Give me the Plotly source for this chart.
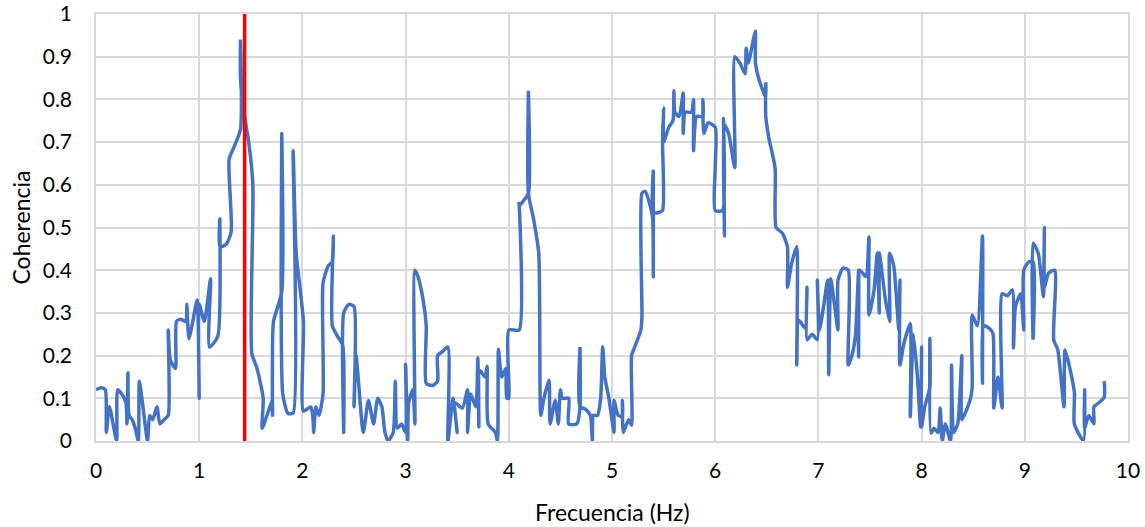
import plotly.graph_objects as go

# Coherence trace (x = frequency in Hz, y = coherence) in path order
freq = [0.00,0.05,0.09,0.10,0.13,0.20,0.21,0.25,0.29,0.30,0.31,0.32,0.35,0.38,0.41,0.42,0.45,0.50,0.52,0.55,0.59,0.62,0.66,0.70,0.70,0.72,0.77,0.78,0.82,0.87,0.88,0.90,0.93,0.98,
        1.00,1.00,1.05,1.11,1.10,1.18,1.20,1.20,1.26,1.31,1.29,1.34,1.40,1.40,1.40,1.43,1.48,1.52,1.51,1.56,1.62,1.61,1.71,1.71,1.71,1.72,1.80,1.80,1.81,1.86,1.91,1.91,1.94,
        2.01,2.01,2.08,2.10,2.11,2.13,2.16,2.20,2.20,2.25,2.29,2.30,2.29,2.34,2.39,2.40,2.40,2.45,2.50,2.50,2.52,2.59,2.64,2.69,2.73,2.77,2.80,2.83,2.88,2.90,2.92,2.96,
        3.00,3.00,3.02,3.03,3.07,3.09,3.09,3.12,3.17,3.20,3.20,3.26,3.31,3.31,3.36,3.41,3.41,3.46,3.50,3.48,3.55,3.60,3.60,3.63,3.68,3.70,3.71,3.72,3.77,3.79,3.80,3.87,3.89,3.90,3.93,3.97,3.98,
        4.00,4.00,4.10,4.10,4.10,4.15,4.19,4.19,4.19,4.24,4.29,4.31,4.34,4.39,4.40,4.45,4.48,4.50,4.52,4.58,4.58,4.66,4.69,4.69,4.69,4.74,4.79,4.81,4.82,4.86,4.89,4.91,4.93,4.97,
        5.02,5.02,5.06,5.10,5.10,5.11,5.16,5.19,5.19,5.22,5.28,5.29,5.29,5.32,5.39,5.40,5.40,5.40,5.45,5.49,5.49,5.50,5.50,5.55,5.59,5.60,5.61,5.65,5.69,5.69,5.71,5.77,5.79,5.79,5.82,5.88,5.88,5.89,5.93,
        6.00,6.00,6.00,6.07,6.08,6.09,6.09,6.13,6.19,6.19,6.24,6.29,6.30,6.32,6.37,6.39,6.39,6.42,6.49,6.49,6.49,6.52,6.58,6.59,6.65,6.70,6.70,6.74,6.79,6.79,6.81,6.87,6.89,6.89,6.94,
        6.99,6.99,7.01,7.05,7.09,7.10,7.12,7.15,7.19,7.19,7.24,7.29,7.29,7.33,7.36,7.39,7.39,7.40,7.46,7.49,7.49,7.54,7.57,7.59,7.59,7.65,7.69,7.69,7.73,7.78,7.79,7.79,7.83,7.89,7.89,7.92,7.96,7.99,
        8.00,8.00,8.03,8.08,8.08,8.09,8.12,8.16,8.18,8.20,8.23,8.28,8.29,8.31,8.35,8.39,8.39,8.47,8.49,8.49,8.54,8.59,8.59,8.60,8.65,8.69,8.70,8.74,8.78,8.78,8.83,8.88,8.89,8.91,8.96,8.99,8.99,
        9.04,9.08,9.08,9.08,9.13,9.18,9.19,9.19,9.23,9.29,9.28,9.32,9.38,9.39,9.48,9.48,9.57,9.58,9.58,9.62,9.67,9.67,9.72,9.77,9.77]
coher = [0.12,0.125,0.12,0.02,0.08,0.0,0.12,0.11,0.09,0.04,0.16,0.06,0.05,0.03,0.0,0.14,0.09,0.0,0.06,0.05,0.08,0.04,0.05,0.06,0.26,0.19,0.17,0.28,0.285,0.28,0.32,0.24,0.27,0.33,
         0.10,0.32,0.28,0.38,0.22,0.245,0.52,0.455,0.46,0.49,0.66,0.69,0.73,0.94,0.85,0.775,0.70,0.60,0.205,0.17,0.10,0.03,0.095,0.057,0.22,0.28,0.35,0.72,0.11,0.065,0.065,0.68,0.44,
         0.28,0.07,0.08,0.06,0.02,0.08,0.06,0.11,0.37,0.41,0.42,0.48,0.27,0.245,0.225,0.02,0.30,0.32,0.315,0.08,0.20,0.02,0.095,0.04,0.10,0.08,0.02,0.0,0.02,0.14,0.03,0.04,
         0.02,0.18,0.0,0.09,0.12,0.04,0.40,0.385,0.33,0.27,0.135,0.13,0.14,0.20,0.21,0.22,0.0,0.10,0.02,0.09,0.077,0.12,0.02,0.11,0.08,0.195,0.033,0.165,0.15,0.175,0.04,0.02,0.0,0.215,0.15,0.17,0.10,
         0.10,0.26,0.26,0.56,0.55,0.565,0.58,0.82,0.58,0.52,0.44,0.06,0.10,0.143,0.04,0.095,0.04,0.12,0.10,0.10,0.04,0.04,0.08,0.22,0.08,0.075,0.06,0.0,0.06,0.06,0.10,0.22,0.15,0.10,
         0.02,0.095,0.06,0.057,0.095,0.02,0.05,0.037,0.20,0.22,0.26,0.29,0.58,0.585,0.53,0.385,0.635,0.535,0.535,0.54,0.70,0.78,0.70,0.735,0.75,0.82,0.77,0.76,0.815,0.72,0.77,0.77,0.80,0.68,0.76,0.76,0.80,0.72,0.745,
         0.735,0.64,0.54,0.54,0.755,0.48,0.74,0.72,0.64,0.90,0.885,0.86,0.92,0.885,0.94,0.96,0.885,0.85,0.805,0.84,0.76,0.71,0.64,0.50,0.487,0.455,0.36,0.415,0.455,0.178,0.283,0.265,0.36,0.237,0.25,
         0.237,0.377,0.26,0.315,0.377,0.155,0.38,0.33,0.26,0.377,0.405,0.40,0.178,0.205,0.25,0.40,0.197,0.40,0.385,0.478,0.295,0.355,0.44,0.30,0.44,0.33,0.28,0.44,0.41,0.26,0.377,0.178,0.23,0.275,0.057,0.25,0.15,0.033,
         0.22,0.033,0.08,0.126,0.24,0.018,0.03,0.02,0.077,0.0,0.04,0.0,0.178,0.02,0.04,0.20,0.05,0.096,0.126,0.295,0.27,0.48,0.135,0.27,0.265,0.253,0.077,0.15,0.077,0.345,0.34,0.354,0.218,0.315,0.345,0.26,0.40,
         0.42,0.42,0.237,0.463,0.44,0.338,0.50,0.36,0.393,0.40,0.237,0.213,0.08,0.213,0.115,0.04,0.0,0.12,0.03,0.06,0.04,0.08,0.09,0.103,0.14]

red_line_x = [1.44, 1.44]
red_line_y = [0, 1]

x_ticks = list(range(0, 11))
y_ticks = [0, 0.1, 0.2, 0.3, 0.4, 0.5, 0.6, 0.7, 0.8, 0.9, 1]
y_labels = ["0", "0.1", "0.2", "0.3", "0.4", "0.5", "0.6", "0.7", "0.8", "0.9", "1"]

x_title = "Frecuencia (Hz)"
y_title = "Coherencia"

fig = go.Figure()
fig.add_trace(go.Scatter(x=freq, y=coher, mode="lines",
                         line=dict(color="#4472C4", width=3.5, shape="spline", smoothing=0.6),
                         showlegend=False))
fig.add_trace(go.Scatter(x=red_line_x, y=red_line_y, mode="lines",
                         line=dict(color="#FF0000", width=3.5), showlegend=False))

font_family = "Lato, 'Open Sans', sans-serif"
axis_common = dict(showgrid=True, gridcolor="#D9D9D9", gridwidth=1.5,
                   showline=True, linecolor="#D9D9D9", linewidth=1.5, mirror=True,
                   zeroline=False, ticks="", tickfont=dict(size=21, color="#000000"),
                   automargin=False)
fig.update_layout(
    width=1145, height=527,
    margin=dict(l=96, r=17, t=14, b=86),
    paper_bgcolor="white", plot_bgcolor="white",
    font=dict(family=font_family, color="#000000"),
    xaxis=dict(range=[0, 10], tickvals=x_ticks, ticktext=[str(v) for v in x_ticks],
               ticklabelstandoff=10, **axis_common),
    yaxis=dict(range=[0, 1], tickvals=y_ticks, ticktext=y_labels,
               ticklabelstandoff=18, **axis_common),
    annotations=[
        dict(text=x_title, xref="paper", yref="paper", x=0.5, y=-0.166,
             xanchor="center", yanchor="middle", showarrow=False, font=dict(size=23)),
        dict(text=y_title, xref="paper", yref="paper", x=-0.0736, y=0.5, textangle=-90,
             xanchor="center", yanchor="middle", showarrow=False, font=dict(size=23)),
    ],
)

# remove the page's default body margin so the figure sits at the window's top-left corner
fig.write_html("out.html", config={"displayModeBar": False},
               post_script="document.body.style.margin='0';document.body.style.overflow='hidden';")
